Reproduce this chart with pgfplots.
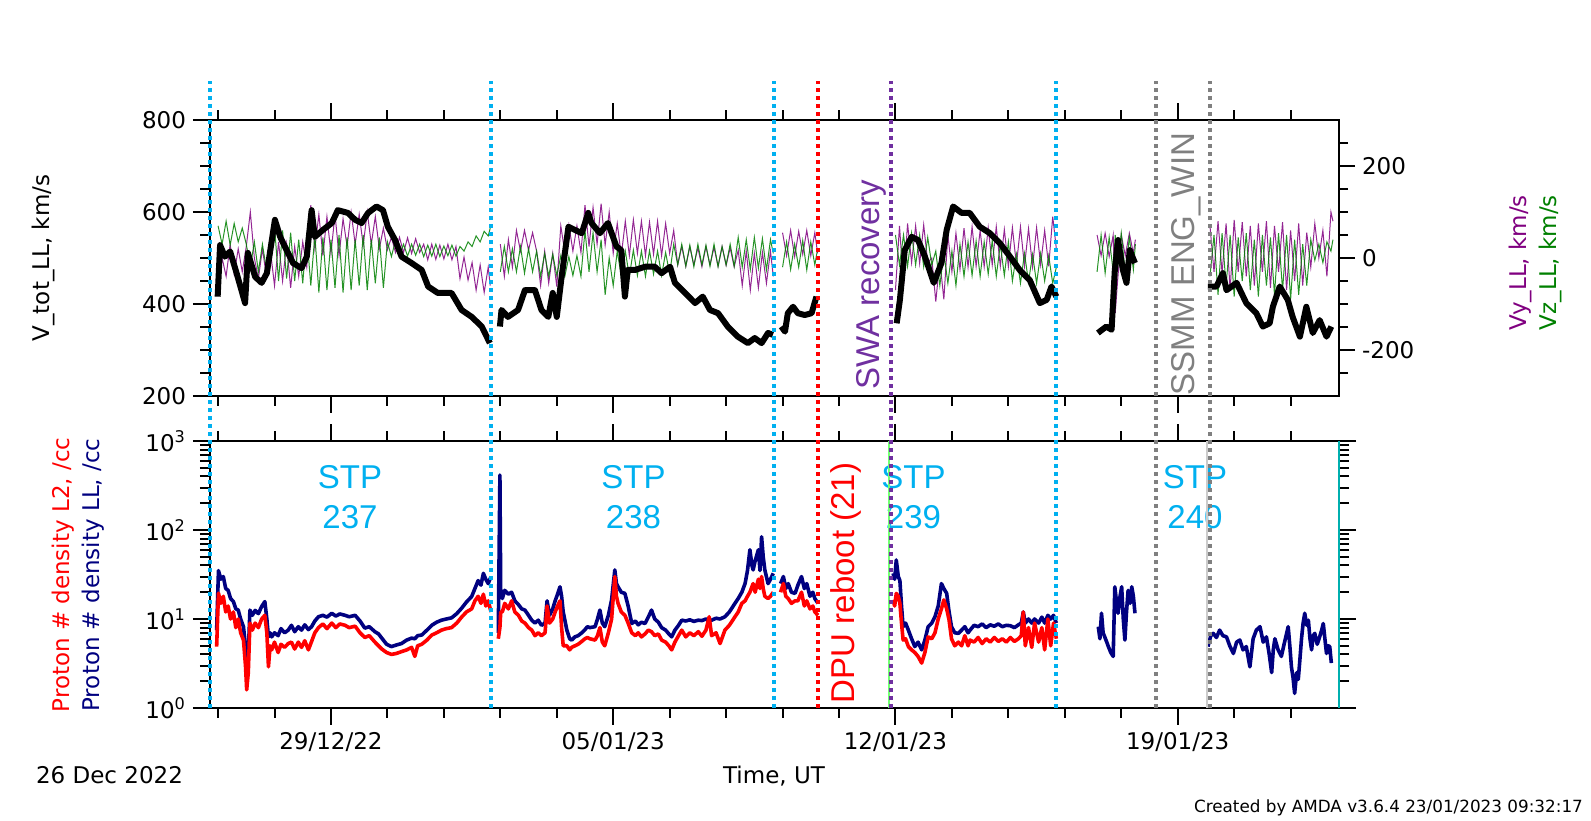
\documentclass[border=0pt]{standalone}
\usepackage{pgfplots}
\pgfplotsset{compat=1.18}
\usepackage{pgfplotstable}
\usepackage{fontspec}
\setmainfont{DejaVu Sans}
\newfontfamily\arial{Liberation Sans}
\definecolor{stpblue}{RGB}{0,176,240}
\definecolor{swapurple}{RGB}{112,48,160}
\definecolor{vyc}{RGB}{128,0,128}
\definecolor{vzc}{RGB}{0,128,0}
\definecolor{navyc}{RGB}{0,0,128}
\definecolor{grayc}{RGB}{128,128,128}
\definecolor{tealc}{RGB}{0,175,175}
\newcommand\amda{\fontsize{11.5}{13.8}\selectfont}
\newcommand\bigfont{\arial\fontsize{16.5}{20}\selectfont}
\tikzset{vline/.style={line width=2pt, dash pattern=on 2pt off 2pt}}

\pgfplotstableread{
d v
0.19 416
0.25 528
0.37 503
0.50 514
0.66 467
0.87 402
0.94 511
1.12 459
1.28 446
1.41 467
1.61 583
1.74 546
1.90 517
2.06 489
2.27 478
2.40 503
2.52 604
2.60 546
2.80 561
3.02 576
3.17 604
3.42 598
3.60 583
3.76 576
3.92 598
4.13 612
4.29 604
4.41 568
4.59 539
4.75 503
5.00 489
5.25 474
5.41 438
5.65 424
5.99 424
6.24 387
6.49 372
6.74 351
6.94 315
7.05 nan
7.19 351
7.23 387
7.39 372
7.64 387
7.81 430
8.06 430
8.22 387
8.39 372
8.50 424
8.60 372
8.72 459
8.89 568
9.05 561
9.22 554
9.38 598
9.46 576
9.67 554
9.87 576
10.08 525
10.20 517
10.29 416
10.36 474
10.54 474
10.79 481
11.03 481
11.20 467
11.41 481
11.53 446
11.78 424
12.03 402
12.22 416
12.40 387
12.60 380
12.84 351
13.09 329
13.34 315
13.51 326
13.68 315
13.84 337
13.96 333
14.05 nan
14.17 351
14.26 340
14.33 380
14.46 394
14.58 380
14.75 376
14.92 380
15.04 416
15.5 nan
17.03 358
17.11 409
17.23 517
17.40 546
17.56 539
17.73 503
17.95 446
18.14 489
18.27 561
18.43 612
18.64 598
18.84 598
19.09 568
19.34 554
19.59 532
19.84 503
20.08 474
20.33 452
20.58 402
20.75 409
20.87 438
20.99 416
21.5 nan
22.02 337
22.23 351
22.36 344
22.44 474
22.52 539
22.64 474
22.73 446
22.81 517
22.94 489
23.5 nan
24.75 438
24.96 438
25.12 467
25.21 430
25.46 446
25.70 402
25.95 380
26.11 351
26.28 358
26.36 394
26.53 438
26.73 409
26.85 372
27.03 329
27.19 394
27.35 337
27.52 365
27.69 329
27.81 351
}\vtab

\pgfplotstableread{
d vy vz
0.2 -80 70
0.3 0 30
0.4 -40 80
0.5 30 28
0.6 -35 75
0.7 20 35
0.8 -30 65
0.9 25 30
1.0 100 -20
1.1 0 35
1.2 -45 -30
1.3 20 30
1.4 -40 -25
1.5 15 35
1.6 -60 70
1.7 35 -50
1.8 -50 60
1.9 30 -45
2.0 -65 55
2.1 25 -50
2.2 -40 40
2.3 35 -55
2.4 -20 50
2.5 115 -60
2.6 20 50
2.7 95 -75
2.8 5 45
2.9 90 -70
3.0 10 40
3.1 95 -65
3.2 5 50
3.3 85 -75
3.4 25 45
3.5 100 -70
3.6 30 40
3.7 95 -60
3.8 28 50
3.9 100 -70
4.0 30 40
4.1 90 -55
4.2 20 45
4.3 65 -65
4.4 18 35
4.5 45 3
4.6 12 38
4.7 45 5
4.8 12 30
4.9 44 4
5.0 10 30
5.1 42 6
5.2 12 30
5.3 30 3
5.4 -4 28
5.5 30 4
5.6 -3 30
5.7 28 3
5.8 -2 26
5.9 30 5
6.0 -4 28
6.1 25 4
6.2 -45 25
6.3 2 15
6.4 -48 35
6.5 -10 25
6.6 -70 48
6.7 -15 35
6.8 -75 58
6.9 -20 48
6.95 -60 65
7.05 nan nan
7.2 30 -30
7.3 -40 25
7.4 40 -30
7.5 -20 20
7.6 60 -30
7.7 15 25
7.8 60 -33
7.9 17 20
8.0 55 -30
8.1 15 15
8.2 -60 -40
8.3 15 10
8.4 -55 -40
8.5 10 8
8.6 -62 -38
8.7 70 5
8.8 12 -40
8.9 72 3
9.0 15 -38
9.1 70 5
9.2 12 -40
9.3 115 60
9.4 25 -30
9.5 110 55
9.6 30 -30
9.7 118 40
9.8 28 -80
9.9 100 0
10.0 10 -60
10.1 75 15
10.2 5 -40
10.3 80 15
10.4 5 -40
10.5 83 17
10.6 10 -38
10.7 80 15
10.8 5 -40
10.9 78 16
11.0 8 -35
11.1 80 15
11.2 5 -38
11.3 75 12
11.4 10 -35
11.5 60 30
11.6 -15 -15
11.7 25 30
11.8 -18 -18
11.9 24 28
12.0 -15 -19
12.1 22 30
12.2 -19 -15
12.3 25 28
12.4 -15 -18
12.5 23 30
12.6 -18 -19
12.7 25 25
12.8 -16 -15
12.9 22 30
13.0 -19 -18
13.1 17 45
13.2 -60 -20
13.3 15 40
13.4 -70 -25
13.5 10 45
13.6 -65 -22
13.7 12 42
13.8 -55 -26
13.9 15 40
13.97 -40 10
14.05 nan nan
14.2 55 -20
14.3 5 35
14.4 60 -25
14.5 3 30
14.6 58 -20
14.7 8 38
14.8 60 -26
14.9 5 35
15.0 55 -15
15.07 10 20
15.5 nan nan
17.0 -70 50
17.1 70 -15
17.2 -60 50
17.3 75 -18
17.4 -10 54
17.5 70 -15
17.6 -12 50
17.7 72 -19
17.8 -10 45
17.9 0 -15
18.0 -95 15
18.1 -5 -60
18.2 -90 12
18.3 50 -55
18.4 -30 15
18.5 54 -60
18.6 -25 30
18.7 65 -40
18.8 -20 35
18.9 68 -38
19.0 -18 37
19.1 60 -40
19.2 -19 35
19.3 66 -35
19.4 -15 38
19.5 68 -40
19.6 -18 30
19.7 62 -38
19.8 -19 35
19.9 66 -50
20.0 -15 8
20.1 68 -55
20.2 -18 10
20.3 64 -52
20.4 -19 8
20.5 66 -55
20.6 -15 10
20.7 60 -50
20.8 -18 5
20.9 90 -55
20.99 20 -20
21.5 nan nan
22.0 50 -30
22.1 5 50
22.2 54 -33
22.3 3 45
22.4 50 -30
22.45 -120 50
22.5 -60 -30
22.6 50 54
22.7 5 -33
22.8 54 45
22.9 10 -25
22.95 40 30
23.5 nan nan
24.8 70 -40
24.9 -30 50
25.0 80 -80
25.1 -33 54
25.2 75 -60
25.3 -70 50
25.4 83 -84
25.5 -30 45
25.6 78 -50
25.7 -40 54
25.8 70 -70
25.9 -60 40
26.0 75 -84
26.1 -30 50
26.2 80 -60
26.3 -65 45
26.4 70 -80
26.5 -30 54
26.6 78 -70
26.7 -70 50
26.8 60 -90
26.9 -50 40
27.0 75 -80
27.1 -60 30
27.2 55 -60
27.3 -20 40
27.4 75 -5
27.5 0 30
27.6 60 -10
27.7 -40 35
27.8 100 15
27.85 80 40
}\vyztab

\pgfplotstableread{
d ll l2
0.165 7.5 4.9
0.21 35 19.5
0.27 28 15
0.33 30 18
0.39 22 12
0.45 21 14
0.51 17 10
0.58 15.7 12
0.64 13 8
0.70 12.6 10
0.76 10 7
0.83 8.2 5.8
0.88 5 3
0.91 3 1.6
0.95 4 2.5
0.99 12.6 9
1.05 11 7.5
1.12 12.5 9
1.20 11.5 8
1.28 13.8 10
1.36 15.7 11
1.41 10 7
1.45 6.3 2.9
1.49 7 5
1.53 6.3 4.5
1.60 7 5.5
1.69 6.5 4.2
1.76 7.8 5.2
1.85 7 4.8
1.94 7.5 5.3
2.02 8.5 5.5
2.10 7.2 4.6
2.19 8.2 5.5
2.27 7.5 4.8
2.35 8.6 5.7
2.44 7.6 4.5
2.52 8.2 5.6
2.60 9.5 7
2.69 10.6 8
2.80 11 8.8
2.90 10.5 7.8
3.02 11.6 9
3.12 10.8 8
3.22 11.4 8.8
3.35 11 8.5
3.45 10.6 8
3.60 11 8.3
3.72 9.5 7
3.84 7.9 6.2
3.95 8.2 6.5
4.09 7.2 5.5
4.18 6.8 5
4.26 6.1 4.6
4.38 5.2 4.2
4.50 4.9 4
4.62 5.1 4.1
4.75 5.3 4.3
4.88 5.8 4.5
5.00 6.1 4.8
5.08 6 3.8
5.15 6.5 5
5.25 6.6 5.2
5.38 7.5 5.8
5.50 8.5 6.6
5.62 9.2 7
5.74 9.7 7.5
5.86 10 7.8
5.99 10.3 8
6.12 11.5 9
6.24 13.2 10.5
6.36 15.5 12
6.49 17.9 13
6.57 22 16
6.65 27 18
6.72 24 15
6.78 32.6 19
6.84 28 14
6.90 25 16
6.97 30 12
7.05 nan nan
7.15 7 6
7.19 415 8
7.21 20 12
7.25 17 12
7.31 21 15
7.40 19 13
7.48 20 16
7.56 16 12
7.65 14.5 11
7.73 13 9.5
7.81 12.6 9
7.90 11 8
7.98 9.7 7.5
8.06 9 6.5
8.14 9.7 7
8.22 8.5 6.5
8.31 9 7
8.36 16 14
8.42 11 9
8.50 13 10
8.56 16 12
8.62 19 14
8.68 23 16
8.72 18 8
8.76 12 5
8.85 7.5 5
8.92 6 4.5
8.97 5.8 4.8
9.05 6.3 5
9.13 6.5 5.2
9.22 7 5.6
9.30 7.6 6
9.36 8.2 6.2
9.42 8 6
9.55 8.2 5.8
9.61 10 6.5
9.67 12.6 8
9.73 9 5.5
9.79 8.2 5
9.88 11 7
9.96 16.4 10
10.04 35.6 30
10.08 25 18
10.12 23 15
10.20 20 12
10.29 19.4 11
10.37 14 9
10.46 8.9 7
10.55 9.5 6.5
10.62 8.6 7
10.70 9.2 6.3
10.79 8.9 6.8
10.87 10.5 7.5
10.95 12.6 7.2
11.03 10 6.5
11.12 9.2 6.8
11.20 8 5.8
11.30 7.5 5.5
11.38 6.8 5
11.45 6.3 4.5
11.53 7.5 5.5
11.62 8.5 6.5
11.70 9.7 7.5
11.80 9.5 6.3
11.90 9.8 7
12.00 9.4 6.5
12.11 9.7 7.2
12.20 9.6 6.4
12.30 10 7.5
12.38 9.5 10.6
12.44 9.7 6.5
12.55 10.2 7
12.65 10 5.3
12.77 10.6 7.5
12.88 12 8.5
13.02 15 10.6
13.10 17 12
13.19 20 15
13.27 25 16
13.33 35 18
13.39 60 20
13.44 40 23
13.47 35.6 25
13.52 45 20
13.60 60 28
13.64 35 22
13.68 84 30
13.72 50 22
13.76 35.6 18
13.84 25 17
13.90 28 18
13.97 32.6 20
14.05 nan nan
14.15 25 20
14.22 30 25
14.28 22 18
14.34 25 17
14.42 20 15
14.51 19.4 16
14.58 24 16
14.67 30 20
14.74 22 14
14.80 25 16
14.88 18 13
14.95 20 14
15.00 17 12
15.08 15 11
15.5 nan nan
16.94 32.6 16.4
16.98 28 14
17.02 46 19.4
17.07 30 18
17.11 27 15
17.15 14 9
17.19 8.2 5.8
17.25 9 6
17.32 7.5 4.9
17.40 6 4.5
17.48 4.9 4.2
17.56 5.5 3.8
17.65 4.5 3.2
17.73 5.8 4.2
17.81 8.2 6.3
17.90 9 6
17.98 10.6 7
18.06 14 10
18.14 25 13
18.20 22 16.4
18.27 19.4 13
18.33 12 9.7
18.39 8.2 6
18.47 7 5
18.56 6.9 5.5
18.64 7.5 5
18.72 8.2 6.5
18.80 7 5
18.85 7.5 5.8
18.95 8.5 5.5
19.05 8.2 6.2
19.15 8.8 5.3
19.25 8 6
19.35 8.6 5.5
19.45 8.3 6.2
19.55 8.8 5.6
19.65 8.2 6
19.75 8.5 5.5
19.85 8.4 6.2
19.95 8 5.6
20.05 8.6 6
20.12 9 6.5
20.17 12 12
20.22 9 5
20.30 10 8
20.38 9 4.8
20.45 10 9
20.55 9 5.5
20.63 10.5 8
20.70 9 4.5
20.78 11 10
20.85 10 5
20.92 11 9
20.99 9 6
21.5 nan nan
22.03 8.2 nan
22.07 6 nan
22.11 11.6 nan
22.15 7 nan
22.19 6.3 nan
22.24 5.5 nan
22.28 4.9 nan
22.34 4.2 nan
22.40 3.8 nan
22.44 23 nan
22.48 16 nan
22.52 11.6 nan
22.57 18 nan
22.61 23 nan
22.65 10 nan
22.69 5.8 nan
22.73 12 nan
22.77 21 nan
22.82 15 nan
22.86 23 nan
22.90 18 nan
22.94 11.6 nan
23.5 nan nan
24.75 4.9 nan
24.82 6.5 nan
24.88 6.9 nan
24.96 6.2 nan
25.04 7.5 nan
25.12 6.5 nan
25.21 6.3 nan
25.29 5 nan
25.38 4.1 nan
25.46 5.5 nan
25.54 5.8 nan
25.62 4.5 nan
25.70 4.9 nan
25.79 2.9 nan
25.87 6 nan
25.95 7.5 nan
26.04 8.2 nan
26.12 5.5 nan
26.20 6.3 nan
26.27 4 nan
26.33 2.5 nan
26.37 4.5 nan
26.41 6 nan
26.49 4.5 nan
26.57 3.8 nan
26.65 5.5 nan
26.74 8.2 nan
26.78 5 nan
26.82 2.9 nan
26.86 2.2 nan
26.90 1.46 nan
26.95 2.5 nan
26.99 2.1 nan
27.03 3.5 nan
27.07 6 nan
27.11 9 nan
27.15 11.6 nan
27.20 8.5 nan
27.24 9.7 nan
27.28 6 nan
27.32 4.5 nan
27.36 6.5 nan
27.40 6.9 nan
27.46 5.2 nan
27.52 6.3 nan
27.57 7.5 nan
27.61 8.9 nan
27.65 6 nan
27.69 4.1 nan
27.73 5 nan
27.77 4.9 nan
27.81 3.2 nan
}\ntab

\pgfplotsset{
  amdaaxis/.style={
    scale only axis, anchor=south west, width=564.5pt,
    xmin=0, xmax=28,
    xtick={3,10,17,24},
    minor xtick={0.2,1.6,4.4,5.8,7.2,8.6,11.4,12.8,14.2,15.6,18.4,19.8,21.2,22.6,25.4,26.8},
    tick align=outside,
    major tick length=8.5pt, minor tick length=5pt,
    tick style={black, line width=1pt},
    axis line style={line width=1.2pt},
    tick label style={font=\amda},
    unbounded coords=jump,
  },
}

\begin{document}
\begin{tikzpicture}
\path[use as bounding box] (0,0) rectangle (795.5pt,410pt);

% annotations (behind the lines)
\node[align=center, text=stpblue, font=\bigfont] at (175pt,161.5pt) {STP\\237};
\node[align=center, text=stpblue, font=\bigfont] at (316.75pt,161.5pt) {STP\\238};
\node[align=center, text=stpblue, font=\bigfont] at (456.75pt,161.5pt) {STP\\239};
\node[align=center, text=stpblue, font=\bigfont] at (597.5pt,161.5pt) {STP\\240};
\node[rotate=90, text=red, font=\bigfont] at (423pt,118.5pt) {DPU reboot (21)};
\node[rotate=90, text=swapurple, font=\bigfont] at (435.5pt,267.75pt) {SWA recovery};
\node[rotate=90, text=grayc, font=\bigfont] at (593pt,278pt) {SSMM ENG\_WIN};

% axis titles
\node[rotate=90, font=\amda] at (21.5pt,281pt) {V\_tot\_LL, km/s};
\node[rotate=90, anchor=east, text=vyc, font=\amda] at (760pt,316pt) {Vy\_LL, km/s};
\node[rotate=90, anchor=east, text=vzc, font=\amda] at (775pt,316pt) {Vz\_LL, km/s};
\node[rotate=90, text=red, font=\amda] at (31.5pt,122.5pt) {Proton \# density L2, /cc};
\node[rotate=90, text=navyc, font=\amda] at (46.5pt,122.5pt) {Proton \# density LL, /cc};
\node[anchor=west, font=\amda] at (14.5pt,22.5pt) {26 Dec 2022};
\node[font=\amda] at (387pt,22pt) {Time, UT};
\node[anchor=east, font=\fontsize{8.4}{10}\selectfont] at (795pt,6pt) {Created by AMDA v3.6.4 23/01/2023 09:32:17};

% top panel, right axis (Vy, Vz)
\begin{axis}[amdaaxis, at={(105pt,212pt)}, height=138pt,
  axis y line*=right, axis x line=none,
  ymin=-300, ymax=300,
  ytick={-200,0,200}, yticklabels={-200,0,200},
  minor ytick={-250,-150,-100,-50,50,100,150,250},
  major tick length=8pt, minor tick length=4.5pt]
\addplot[vyc, line width=0.5pt, opacity=0.85] table[x=d, y=vy] {\vyztab};
\addplot[vzc, line width=0.5pt, opacity=0.85] table[x=d, y=vz] {\vyztab};
\end{axis}

% top panel, left axis (V_tot)
\begin{axis}[amdaaxis, at={(105pt,212pt)}, height=138pt,
  ymin=200, ymax=800,
  ytick={200,400,600,800}, yticklabels={200,400,600,800},
  minor ytick={250,300,350,450,500,550,650,700,750},
  ytick pos=left, xtick pos=both, xticklabels={}]
\addplot[black, line width=3pt, line join=round] table[x=d, y=v] {\vtab};
\end{axis}

% bottom panel (densities)
\begin{axis}[amdaaxis, at={(105pt,56pt)}, height=133.5pt,
  ymode=log, ymin=1, ymax=1000,
  ytick={1,10,100,1000},
  yticklabels={10\textsuperscript{0},10\textsuperscript{1},10\textsuperscript{2},10\textsuperscript{3}},
  ytick pos=both, xtick pos=both,
  xticklabels={29/12/22,05/01/23,12/01/23,19/01/23},
  clip=false]
\addplot[navyc, line width=1.8pt, line join=round] table[x=d, y=ll] {\ntab};
\addplot[red, line width=1.8pt, line join=round] table[x=d, y=l2] {\ntab};
% event lines spanning both panels
\draw[vline, stpblue] (axis cs:0.0,1) -- ++(0,294pt);
\draw[vline, stpblue] (axis cs:6.97,1) -- ++(0,294pt);
\draw[vline, stpblue] (axis cs:13.98,1) -- ++(0,294pt);
\draw[vline, red] (axis cs:15.08,1) -- ++(0,294pt);
\draw[line width=0.6pt, green!55!white] (axis cs:16.84,1) -- (axis cs:16.84,1000);
\draw[vline, swapurple] (axis cs:16.89,1) -- ++(0,294pt);
\draw[vline, stpblue] (axis cs:20.98,1) -- ++(0,294pt);
\draw[vline, grayc] (axis cs:23.46,1) -- ++(0,294pt);
\draw[line width=1pt, gray!40] (axis cs:24.72,1) -- (axis cs:24.72,1000);
\draw[vline, grayc] (axis cs:24.80,1) -- ++(0,294pt);
\draw[line width=1pt, tealc] (axis cs:28,1) -- (axis cs:28,1000);
\end{axis}
\end{tikzpicture}
\end{document}
